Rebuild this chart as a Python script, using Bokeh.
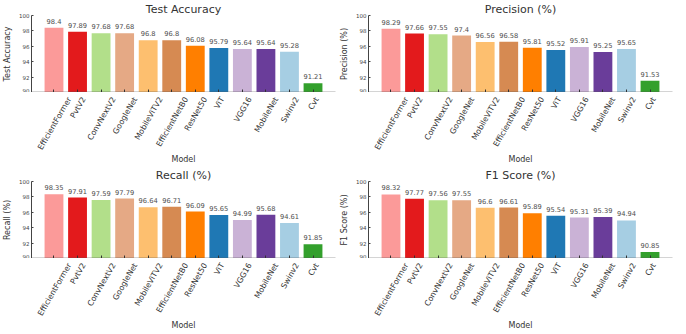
import math
from bokeh.plotting import figure
from bokeh.layouts import gridplot
from bokeh.models import Range1d, FixedTicker, ColumnDataSource, LabelSet
from bokeh.embed import file_html
from bokeh.resources import INLINE
from bokeh.core.properties import value

models = ["EfficientFormer", "PvtV2", "ConvNextV2", "GoogleNet", "MobileViTV2",
          "EfficientNetB0", "ResNet50", "ViT", "VGG16", "MobileNet", "Swinv2", "Cvt"]
bar_colors = ["#fb9a99", "#e31a1c", "#b2df8a", "#e5a985", "#fdbf6f", "#d68a52",
              "#ff7f00", "#1f78b4", "#cab2d6", "#6a3d9a", "#a6cee3", "#33a02c"]

accuracy = [98.4, 97.89, 97.68, 97.68, 96.8, 96.8, 96.08, 95.79, 95.64, 95.64, 95.28, 91.21]
precision = [98.29, 97.66, 97.55, 97.4, 96.56, 96.58, 95.81, 95.52, 95.91, 95.25, 95.65, 91.53]
recall = [98.35, 97.91, 97.59, 97.79, 96.64, 96.71, 96.09, 95.65, 94.99, 95.68, 94.61, 91.85]
f1_score = [98.32, 97.77, 97.56, 97.55, 96.6, 96.61, 95.89, 95.54, 95.31, 95.39, 94.94, 90.85]

y_ticks = [90, 92, 94, 96, 98, 100]
y_min, y_max = 90, 100

FONT = "DejaVu Sans"
XLAB_PX = 7.8
LEFT = 26
VALUE_COLOR = "#4d4d4d"

# approximate DejaVu Sans advance widths (em) used to centre rotated labels
_W = {"E": .632, "f": .352, "i": .278, "c": .550, "e": .615, "n": .634, "t": .392,
      "F": .575, "o": .612, "r": .411, "m": .974, "P": .603, "v": .592, "V": .684,
      "C": .698, "N": .748, "x": .592, "G": .775, "g": .635, "l": .278, "M": .863,
      "b": .635, "T": .611, "B": .686, "R": .695, "s": .521, "S": .635, "w": .818}


def text_width(s, px):
    return sum(_W.get(ch, .636) for ch in s) * px


def style_common(p):
    p.outline_line_color = None
    p.xgrid.visible = False
    p.ygrid.visible = False
    p.background_fill_color = "white"
    p.border_fill_color = "white"


def make_panel(title, ylabel, vals, fw, right):
    xs = list(range(len(models)))
    xr = Range1d(-0.955, len(models) - 1 + 0.955)
    bars = ColumnDataSource(dict(x=xs, top=vals, fillc=bar_colors))
    vlab = ColumnDataSource(dict(x=xs, y=vals, txt=[str(v) for v in vals]))

    p = figure(frame_width=fw, frame_height=77, output_backend="svg", toolbar_location=None,
               x_range=xr, y_range=Range1d(y_min, y_max),
               min_border_left=LEFT, min_border_right=right,
               min_border_top=0, min_border_bottom=0)
    style_common(p)
    p.title.text = title
    p.title.align = "center"
    p.title.text_font = FONT
    p.title.text_font_size = "11px"
    p.title.text_font_style = "normal"
    p.title.text_color = "#333333"
    p.title.standoff = 0

    p.vbar(x="x", top="top", bottom=y_min, width=0.8, fill_color="fillc",
           line_color=None, source=bars)
    p.add_layout(LabelSet(x="x", y="y", text="txt", source=vlab, text_align="center",
                          text_baseline="bottom", y_offset=4, text_font=value(FONT),
                          text_font_size=value("6.7px"), text_color=value(VALUE_COLOR)))

    xa = p.xaxis[0]
    xa.ticker = FixedTicker(ticks=xs)
    xa.major_label_overrides = {i: "" for i in xs}
    xa.major_label_standoff = 0
    xa.major_tick_in = 3
    xa.major_tick_out = 0
    xa.major_tick_line_color = "#333333"
    xa.minor_tick_line_color = None
    xa.axis_line_color = "#555555"
    xa.axis_line_width = 1.6

    ya = p.yaxis[0]
    ya.ticker = FixedTicker(ticks=y_ticks)
    ya.major_label_text_font = FONT
    ya.major_label_text_font_size = "5.5px"
    ya.major_label_text_color = "#444444"
    ya.major_label_standoff = 2
    ya.major_tick_in = 2
    ya.major_tick_out = 0
    ya.major_tick_line_color = "#444444"
    ya.minor_tick_line_color = None
    ya.axis_line_color = "#444444"
    ya.axis_line_width = 1
    ya.axis_label = ylabel
    ya.axis_label_text_font = FONT
    ya.axis_label_text_font_size = "8px"
    ya.axis_label_text_font_style = "normal"
    ya.axis_label_text_color = "#333333"
    ya.axis_label_standoff = 4

    # category labels strip (rotated 60 degrees, centred on each tick)
    lab = ColumnDataSource(dict(
        x=xs, y=[1.0] * len(xs), txt=models,
        xoff=[0.25 * text_width(m, XLAB_PX) - 0.433 * XLAB_PX for m in models]))
    q = figure(frame_width=fw, frame_height=62, output_backend="svg", toolbar_location=None,
               x_range=xr, y_range=Range1d(0, 1), y_axis_location=None,
               min_border_left=LEFT, min_border_right=right,
               min_border_top=0, min_border_bottom=0)
    style_common(q)
    q.text(x="x", y="y", text="txt", source=lab, angle=math.pi / 3,
           text_align="right", text_baseline="top", x_offset="xoff", y_offset=3,
           text_font=value(FONT), text_font_size=f"{XLAB_PX}px", text_color="#333333")
    qa = q.xaxis[0]
    qa.ticker = FixedTicker(ticks=[])
    qa.major_tick_line_color = None
    qa.minor_tick_line_color = None
    qa.axis_line_color = None
    qa.major_label_text_font_size = "8px"
    qa.axis_label = "Model"
    qa.axis_label_text_font = FONT
    qa.axis_label_text_font_size = "8px"
    qa.axis_label_text_font_style = "normal"
    qa.axis_label_text_color = "#333333"
    qa.axis_label_standoff = 0
    return p, q


p1, l1 = make_panel("Test Accuracy", "Test Accuracy", accuracy, 304, 2)
p2, l2 = make_panel("Precision (%)", "Precision (%)", precision, 304, 8)
p3, l3 = make_panel("Recall (%)", "Recall (%)", recall, 304, 2)
p4, l4 = make_panel("F1 Score (%)", "F1 Score (%)", f1_score, 304, 8)

grid = gridplot([[p1, p2], [l1, l2], [p3, p4], [l3, l4]], toolbar_location=None)

open("out.html", "w").write(file_html(grid, INLINE))
